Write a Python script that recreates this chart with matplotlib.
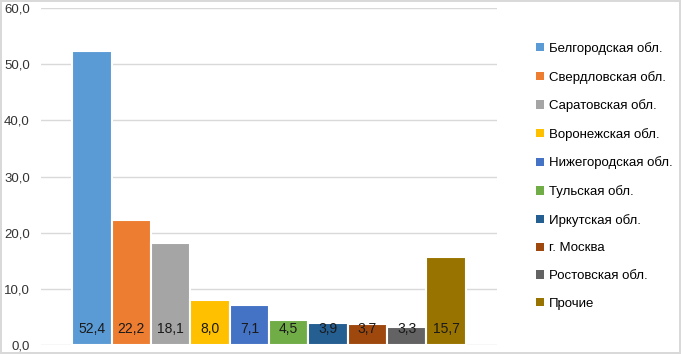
import matplotlib.pyplot as plt

plt.rcParams['font.family'] = ['Liberation Sans', 'DejaVu Sans']

# данные
regions = ["Белгородская обл.", "Свердловская обл.", "Саратовская обл.",
           "Воронежская обл.", "Нижегородская обл.", "Тульская обл.",
           "Иркутская обл.", "г. Москва", "Ростовская обл.", "Прочие"]
values = [52.4, 22.2, 18.1, 8.0, 7.1, 4.5, 3.9, 3.7, 3.3, 15.7]
colors = ["#5B9BD5", "#ED7D31", "#A5A5A5", "#FFC000", "#4472C4",
          "#70AD47", "#255E91", "#9E480E", "#636363", "#997300"]
yticks = [0, 10, 20, 30, 40, 50, 60]

fig = plt.figure(figsize=(6.81, 3.54), dpi=100)
fig.patch.set_edgecolor("#D9D9D9")
fig.patch.set_linewidth(1.5)
ax = fig.add_axes([0.060, 0.025, 0.670, 0.952])

x = list(range(len(values)))
bars = ax.bar(x, values, width=1.0, color=colors, edgecolor="white",
              linewidth=1.5, zorder=3)

# подписи значений внизу столбцов
for xi, v in zip(x, values):
    ax.text(xi, 2.8, f"{v:.1f}".replace(".", ","), ha="center", va="center",
            fontsize=10, color="#1a1a1a", zorder=4)

ax.set_xlim(-1.3, 10.3)
ax.set_ylim(0, 60)
ax.set_yticks(yticks)
ax.set_yticklabels([f"{t:.1f}".replace(".", ",") for t in yticks])
ax.set_xticks([])
ax.tick_params(axis="y", length=0, labelsize=9.5, pad=8, labelcolor="#333333")
ax.grid(axis="y", color="#D9D9D9", linewidth=1, zorder=0)
for s in ax.spines.values():
    s.set_visible(False)

leg = fig.legend(list(bars), regions, loc="upper left",
                 bbox_to_anchor=(0.770, 0.915), frameon=False,
                 fontsize=9.5, handlelength=0.6, handleheight=0.6,
                 handletextpad=0.35, labelspacing=1.19)
for h in leg.legend_handles:
    h.set_edgecolor("none")

fig.savefig("out.png", dpi=100)
